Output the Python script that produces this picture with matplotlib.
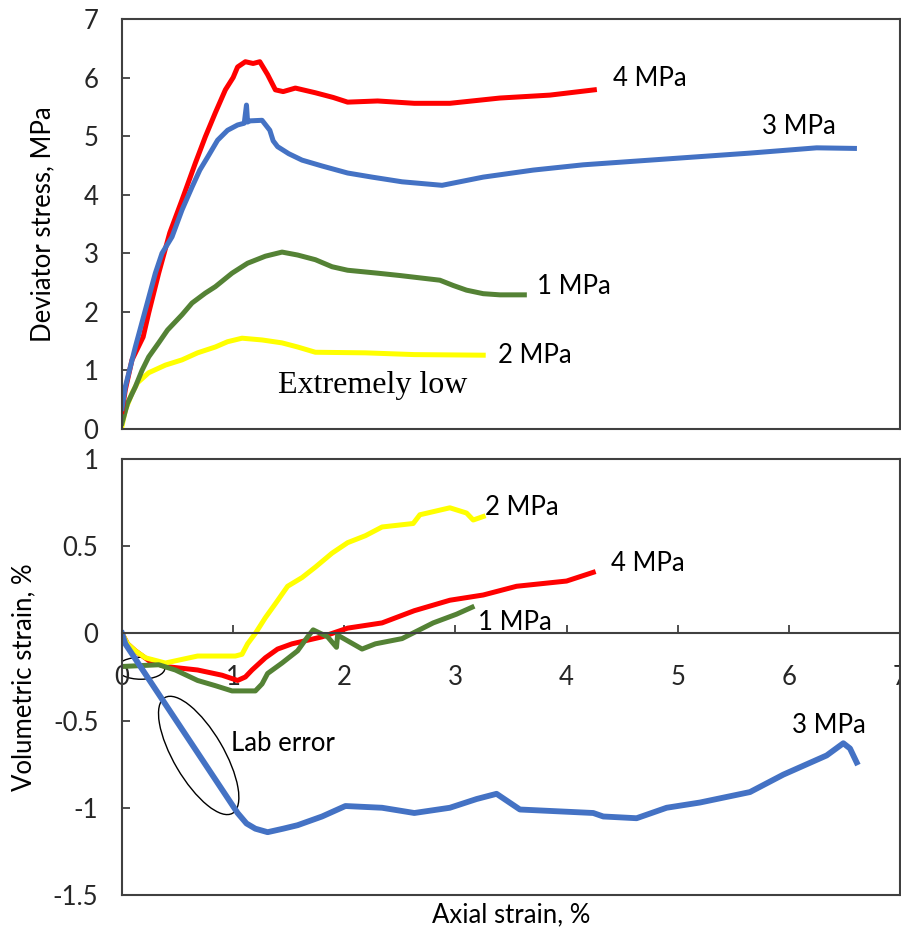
import matplotlib
matplotlib.use("Agg")
import matplotlib.pyplot as plt
from matplotlib.patches import Ellipse
from matplotlib.transforms import ScaledTranslation

plt.rcParams["font.family"] = ["Lato", "DejaVu Sans"]

# ---- 上图: 偏应力 (MPa) ----
red_top_x = [0.0, 0.03, 0.09, 0.19, 0.24, 0.33, 0.43, 0.54, 0.66, 0.75, 0.84, 0.93, 1.00, 1.04, 1.11, 1.18, 1.24,
             1.31, 1.38, 1.45, 1.56, 1.74, 1.90, 2.03, 2.30, 2.63, 2.95, 3.40, 3.85, 4.25]
red_top_y = [0.30, 0.67, 1.18, 1.57, 1.98, 2.66, 3.35, 3.91, 4.54, 4.99, 5.40, 5.79, 6.00, 6.18, 6.27, 6.24, 6.27,
             6.05, 5.79, 5.76, 5.82, 5.74, 5.66, 5.58, 5.60, 5.56, 5.56, 5.65, 5.70, 5.79]

blue_top_x = [0.0, 0.03, 0.12, 0.21, 0.30, 0.36, 0.45, 0.54, 0.63, 0.70, 0.77, 0.86, 0.95, 1.04, 1.10, 1.12, 1.13,
              1.15, 1.26, 1.33, 1.36, 1.40, 1.50, 1.62, 1.80, 2.03, 2.25, 2.52, 2.88, 3.25, 3.70, 4.15, 4.75, 5.20,
              5.65, 6.25, 6.59]
blue_top_y = [0.35, 0.72, 1.40, 2.03, 2.66, 3.00, 3.28, 3.74, 4.13, 4.42, 4.64, 4.93, 5.10, 5.19, 5.22, 5.53, 5.24,
              5.26, 5.27, 5.10, 4.92, 4.82, 4.70, 4.59, 4.49, 4.37, 4.30, 4.22, 4.16, 4.30, 4.42, 4.51, 4.59, 4.65,
              4.71, 4.80, 4.79]

green_top_x = [0.0, 0.05, 0.12, 0.18, 0.24, 0.33, 0.41, 0.54, 0.63, 0.75, 0.84, 0.99, 1.13, 1.29, 1.44, 1.58, 1.74,
               1.89, 2.03, 2.30, 2.50, 2.86, 2.98, 3.10, 3.25, 3.40, 3.62]
green_top_y = [0.10, 0.44, 0.72, 1.00, 1.23, 1.47, 1.69, 1.95, 2.15, 2.32, 2.43, 2.66, 2.83, 2.95, 3.02, 2.97, 2.89,
               2.77, 2.71, 2.66, 2.62, 2.54, 2.45, 2.37, 2.31, 2.29, 2.29]

yellow_top_x = [0.0, 0.03, 0.09, 0.14, 0.24, 0.39, 0.54, 0.68, 0.84, 0.95, 1.08, 1.26, 1.44, 1.58, 1.74, 2.19, 2.63,
                3.25]
yellow_top_y = [0.05, 0.32, 0.61, 0.79, 0.96, 1.09, 1.18, 1.30, 1.40, 1.49, 1.55, 1.52, 1.47, 1.40, 1.31, 1.30, 1.27,
                1.26]

# ---- 下图: 体积应变 (%) ----
yellow_bot_x = [0.0, 0.05, 0.12, 0.21, 0.39, 0.68, 1.02, 1.08, 1.13, 1.20, 1.29, 1.38, 1.49, 1.62, 1.74, 1.89, 2.03,
                2.19, 2.34, 2.62, 2.68, 2.95, 3.10, 3.16, 3.25]
yellow_bot_y = [0.0, -0.06, -0.10, -0.14, -0.17, -0.13, -0.13, -0.12, -0.06, 0.0, 0.09, 0.17, 0.27, 0.32, 0.38, 0.46,
                0.52, 0.56, 0.61, 0.63, 0.68, 0.72, 0.69, 0.65, 0.67]

red_bot_x = [0.0, 0.05, 0.12, 0.25, 0.39, 0.68, 0.90, 1.04, 1.11, 1.17, 1.29, 1.40, 1.53, 1.80, 2.03, 2.34, 2.63,
             2.95, 3.25, 3.55, 4.00, 4.24]
red_bot_y = [0.0, -0.06, -0.10, -0.16, -0.19, -0.21, -0.24, -0.27, -0.25, -0.21, -0.14, -0.09, -0.06, -0.02, 0.03,
             0.06, 0.13, 0.19, 0.22, 0.27, 0.30, 0.35]

green_bot_x = [0.0, 0.33, 0.48, 0.68, 0.84, 0.99, 1.20, 1.26, 1.31, 1.44, 1.58, 1.67, 1.72, 1.85, 1.93, 1.94, 2.16,
               2.28, 2.52, 2.80, 3.01, 3.15]
green_bot_y = [-0.19, -0.18, -0.21, -0.27, -0.30, -0.33, -0.33, -0.29, -0.23, -0.17, -0.10, -0.02, 0.02, -0.02,
               -0.08, -0.01, -0.09, -0.06, -0.03, 0.06, 0.11, 0.15]

blue_bot_x = [0.0, 0.03, 1.04, 1.12, 1.20, 1.31, 1.45, 1.58, 1.80, 2.01, 2.34, 2.63, 2.95, 3.19, 3.37, 3.58, 4.24,
              4.33, 4.63, 4.90, 5.20, 5.65, 5.95, 6.34, 6.49, 6.55, 6.61]
blue_bot_y = [0.0, -0.06, -1.03, -1.09, -1.12, -1.14, -1.12, -1.10, -1.05, -0.99, -1.00, -1.03, -1.00, -0.95, -0.92,
              -1.01, -1.03, -1.05, -1.06, -1.00, -0.97, -0.91, -0.81, -0.70, -0.63, -0.66, -0.74]

C_RED = "#FF0000"
C_BLUE = "#4472C4"
C_GREEN = "#548235"
C_YELLOW = "#FFFF00"
C_AX = "#404040"
FS = 18.5

fig = plt.figure(figsize=(9.01, 9.34), dpi=100)
ax1 = fig.add_axes([0.1354, 0.5407, 0.8635, 0.4390])
ax2 = fig.add_axes([0.1354, 0.0418, 0.8635, 0.4668])

LW = 3.6
ax1.plot(yellow_top_x, yellow_top_y, color=C_YELLOW, lw=LW)
ax1.plot(green_top_x, green_top_y, color=C_GREEN, lw=LW)
ax1.plot(red_top_x, red_top_y, color=C_RED, lw=LW)
ax1.plot(blue_top_x, blue_top_y, color=C_BLUE, lw=LW)

ax1.set_xlim(0, 7)
ax1.set_ylim(0, 7)
ax1.set_xticks([])
ax1.set_yticks(range(0, 8))
ax1.set_ylabel("Deviator stress, MPa", fontsize=FS, labelpad=20)

ax1.text(4.42, 5.98, "4 MPa", fontsize=FS, va="center")
ax1.text(5.76, 5.16, "3 MPa", fontsize=FS, va="center")
ax1.text(3.73, 2.44, "1 MPa", fontsize=FS, va="center")
ax1.text(3.38, 1.26, "2 MPa", fontsize=FS, va="center")
ax1.text(1.40, 0.75, "Extremely low", fontsize=23, va="center",
         family=["Liberation Serif", "DejaVu Serif"])

ax2.plot(red_bot_x, red_bot_y, color=C_RED, lw=LW)
ax2.plot(yellow_bot_x, yellow_bot_y, color=C_YELLOW, lw=LW)
ax2.plot(green_bot_x, green_bot_y, color=C_GREEN, lw=LW)
ax2.plot(blue_bot_x, blue_bot_y, color=C_BLUE, lw=4.2)

ax2.set_xlim(0, 7)
ax2.set_ylim(-1.5, 1)
ax2.set_yticks([-1.5, -1, -0.5, 0, 0.5, 1])
ax2.set_yticklabels(["-1.5", "-1", "-0.5", "0", "0.5", "1"])
ax2.set_xticks(range(0, 8))
ax2.spines["bottom"].set_position(("data", 0))
ax2.plot([0, 1], [0, 0], transform=ax2.transAxes, color=C_AX, lw=1.5, clip_on=False)
ax2.set_ylabel("Volumetric strain, %", fontsize=FS, labelpad=12)
ax2.text(0.5, -0.045, "Axial strain, %", fontsize=FS, ha="center", va="center", transform=ax2.transAxes)

ax2.text(3.27, 0.72, "2 MPa", fontsize=FS, va="center")
ax2.text(4.40, 0.40, "4 MPa", fontsize=FS, va="center")
ax2.text(3.20, 0.06, "1 MPa", fontsize=FS, va="center")
ax2.text(6.03, -0.53, "3 MPa", fontsize=FS, va="center")
ax2.text(0.98, -0.63, "Lab error", fontsize=FS, va="center")

# 椭圆标注 (像素尺寸)
for cx, cy, w, h, ang in [(0.17, -0.20, 0.48, 0.22, 0), (0.69, -0.70, 1.34, 0.50, -59.6)]:
    tr = fig.dpi_scale_trans + ScaledTranslation(cx, cy, ax2.transData)
    ax2.add_patch(Ellipse((0, 0), w, h, angle=ang, transform=tr, fill=False, ec="black", lw=1.0))

for ax in (ax1, ax2):
    for sp in ax.spines.values():
        sp.set_color(C_AX)
        sp.set_linewidth(1.5)
    ax.tick_params(direction="in", length=6, width=1.3, color=C_AX, labelsize=FS, labelcolor="#262626")
    ax.tick_params(axis="y", pad=17)
ax2.tick_params(axis="x", pad=23)

fig.savefig("out.png", dpi=100)
